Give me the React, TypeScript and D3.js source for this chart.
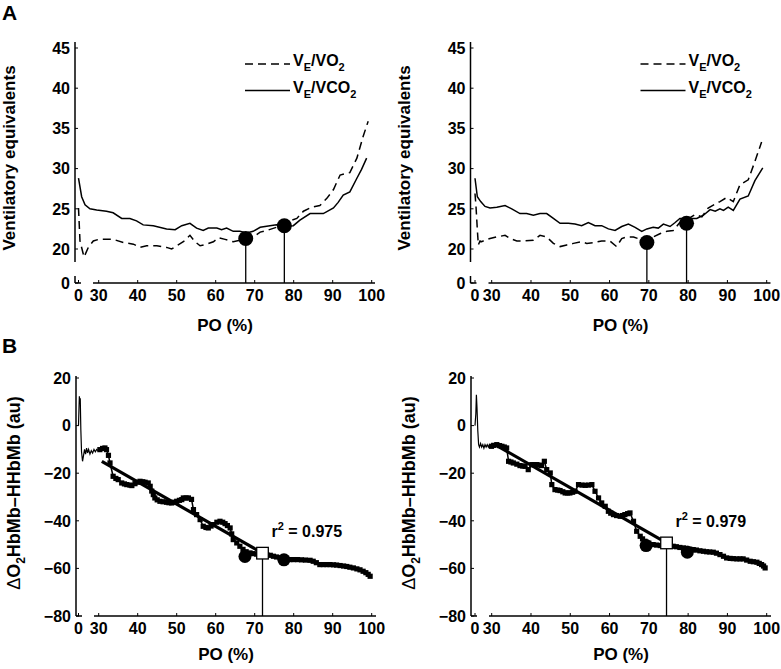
import React from "react";
import * as d3 from "d3";

type Pt = [number, number];

const xTicks = [0, 30, 40, 50, 60, 70, 80, 90, 100];
const yTicksA = [0, 20, 25, 30, 35, 40, 45];
const yTicksB = [-80, -60, -40, -20, 0, 20];

// Panel A left
const veVco2Left: Pt[] = [[0,28.8],[4.7,26.5],[9.7,25.5],[17,25.0],[27,24.85],[32,24.7],[33.7,24.5],[35.9,23.8],[38,23.8],[39.7,23.5],[41.4,23.0],[44,22.9],[47.4,22.5],[49.6,22.4],[51.3,22.9],[53.4,23.2],[55.1,22.6],[56.8,22.3],[58.1,22.6],[60.3,22.6],[61.5,22.4],[62.8,22.6],[64.5,22.2],[66.2,22.2],[67.9,22.0],[69.6,22.2],[71.4,22.7],[73.9,22.9],[75.6,23.0],[77.3,22.8],[79.9,22.9],[81.6,23.6],[84.2,24.4],[85.9,24.4],[87.6,24.4],[90.2,25.1],[91.4,25.8],[92.7,26.7],[94.4,27.1],[96.2,28.8],[97.4,29.9],[98.7,31.3]];
const veVo2Left: Pt[] = [[0,25.1],[2.2,21.0],[8.2,19.0],[14.6,20.2],[22,21.0],[30,21.2],[32,21.2],[33.7,21.2],[36.3,20.8],[38.9,20.6],[40.6,20.2],[42.3,20.4],[44.9,20.4],[47.4,20.2],[48.7,20.0],[50,20.4],[51.7,20.9],[53.4,21.7],[54.7,20.9],[56,20.4],[57.7,20.6],[59.4,20.9],[60.7,21.4],[62.4,21.2],[64.5,20.9],[66.2,21.1],[68,21.2],[69.6,21.5],[71.4,22.1],[73.1,22.3],[75.6,22.7],[77.3,23.3],[79,23.5],[80.8,23.8],[82.5,24.7],[84.6,25.2],[86.7,25.4],[88.5,26.3],[90.2,27.4],[91.9,29.2],[94.4,29.5],[96.2,31.3],[97.8,34.0],[99.1,35.9]];
const thresholdsALeft: Pt[] = [[67.7, 21.3], [77.6, 22.9]];

// Panel A right
const veVco2Right: Pt[] = [[0,28.8],[4.2,26.5],[10.2,25.9],[18,25.3],[27,25.1],[31.3,25.2],[33.4,25.4],[35.1,25.0],[37.2,24.4],[38.9,24.4],[40.6,24.2],[42.3,24.4],[44,24.4],[45.7,23.8],[47.4,23.2],[49.5,23.2],[51.2,23.1],[52.9,22.9],[54.6,23.3],[56.3,22.9],[58,22.9],[59.7,22.5],[61.4,22.3],[63.1,22.8],[64.8,23.1],[66.5,22.7],[68.2,22.2],[69.5,22.5],[71.1,22.7],[72.4,22.6],[73.7,23.1],[75.4,22.8],[76.7,23.3],[77.9,23.8],[80.1,23.8],[82.2,23.8],[83.9,24.2],[85.6,24.9],[86.9,24.7],[88.1,25.0],[89,24.8],[90.2,25.2],[91.5,24.8],[93.2,26.2],[95.3,26.6],[97,28.5],[99,30.1]];
const veVo2Right: Pt[] = [[0,26.9],[1.8,25.3],[4.2,22.4],[6,20.5],[9,21.0],[12,20.9],[18,21.1],[27,21.3],[31.3,21.5],[33.4,21.7],[34.7,21.3],[36.4,21.0],[38.1,21.0],[40.6,21.1],[42.3,21.7],[44,21.5],[45.7,20.7],[47.4,20.3],[49.1,20.5],[50.8,20.7],[52.9,20.9],[54.2,20.7],[55.9,20.8],[58,21.0],[60.1,21.0],[61.8,20.3],[63.1,21.3],[64.4,21.5],[66.1,21.5],[67.8,21.2],[69.5,21.0],[71.1,21.5],[72.8,21.9],[74.6,22.2],[76.2,22.3],[77.9,23.3],[80.5,23.9],[81.8,24.3],[83.5,24.0],[85.1,25.1],[86.9,25.6],[88.1,25.9],[89.8,26.4],[91.5,25.9],[93.2,28.0],[95.3,28.6],[97,30.9],[98.7,33.3]];
const thresholdsARight: Pt[] = [[69.5, 20.8], [79.6, 23.2]];

// Panel B left
const baselineBLeft: Pt[] = [[0,0],[0.8,8],[1.3,12.3],[2,9.5],[2.6,11.5],[3.5,-2],[4.5,-11],[6,-15],[7.5,-12.5],[9,-10],[10.5,-12],[12,-9.5],[13.5,-11.5],[15,-10],[17,-12],[19,-10.5],[21,-11.5],[23,-10],[25,-11],[27,-10],[29,-10.5],[30.3,-10.1]];
const hbBLeft: Pt[] = [[30.3,-10.1],[31.0,-9.6],[31.6,-9.4],[32.0,-10.1],[32.5,-12.5],[32.9,-15.7],[33.7,-21.3],[34.4,-22.2],[35.0,-22.7],[35.9,-24.1],[36.6,-24.5],[37.2,-24.8],[38.0,-25.0],[38.5,-25.2],[39.3,-24.4],[40.0,-23.8],[40.6,-23.4],[41.3,-23.6],[41.9,-23.8],[42.7,-24.1],[43.2,-25.5],[43.6,-27.5],[44.0,-29.0],[44.4,-30.4],[45.0,-31.2],[45.7,-31.8],[46.5,-32.0],[47.4,-32.2],[48.0,-32.4],[48.7,-32.5],[49.3,-32.2],[50.0,-31.8],[50.7,-31.4],[51.3,-31.1],[51.7,-30.4],[52.4,-30.4],[53.0,-30.4],[53.8,-31.0],[54.3,-35.3],[55.1,-37.4],[56.0,-39.5],[56.8,-42.3],[57.5,-42.8],[58.1,-43.0],[58.8,-42.2],[59.4,-41.6],[60.3,-40.6],[61.1,-40.2],[61.8,-40.6],[62.4,-41.2],[63.0,-42.0],[63.7,-43.0],[64.1,-45.5],[64.5,-47.9],[65.4,-49.3],[66.2,-50.7],[67.0,-52.0],[67.8,-53.0],[68.8,-53.5],[69.6,-53.8],[70.5,-54.0],[71.3,-54.0],[72.2,-54.1],[73.1,-54.2],[74.0,-54.5],[74.8,-54.9],[75.6,-55.2],[76.5,-55.6],[77.3,-56.0],[78.2,-56.2],[79.0,-56.3],[80.0,-56.3],[81.0,-56.3],[82.0,-56.4],[83.0,-56.5],[84.2,-56.6],[85.0,-57.0],[85.8,-57.6],[86.7,-58.4],[87.6,-58.4],[88.5,-58.4],[89.3,-58.4],[90.2,-58.5],[91.0,-58.6],[91.9,-58.8],[92.8,-59.0],[93.6,-59.2],[94.4,-59.5],[95.3,-59.8],[96.2,-60.2],[97.0,-60.6],[97.8,-61.2],[98.5,-61.8],[99.1,-62.5],[99.6,-63.3]];
const fitBLeft: Pt[] = [[30.8, -15], [72, -53.6]];
const breakBLeft: Pt = [72, -53.6];
const circlesBLeft: Pt[] = [[67.5, -55], [77.5, -56.4]];
const r2Left = "0.975";

// Panel B right
const baselineBRight: Pt[] = [[0,0],[1.5,5],[2.5,13],[3.5,8],[5,-2],[6.5,-8],[8,-9],[10,-7.5],[12,-9],[14,-8],[16,-9.5],[18,-8],[20,-9],[22,-8],[24,-9],[26,-8],[28,-8.5],[29.6,-8.7]];
const hbBRight: Pt[] = [[29.6,-8.7],[30.5,-8.3],[31.3,-8.0],[32.0,-8.4],[32.6,-8.7],[33.2,-9.0],[33.8,-9.4],[34.3,-15.0],[34.9,-15.3],[35.5,-15.7],[36.4,-16.2],[37.2,-16.8],[37.9,-17.0],[38.5,-17.1],[39.3,-18.5],[40.2,-16.4],[40.8,-16.4],[41.5,-16.4],[42.1,-16.6],[42.7,-16.8],[43.4,-15.0],[44.0,-18.5],[44.9,-19.9],[45.3,-24.8],[46.1,-26.9],[46.8,-27.1],[47.4,-27.3],[48.1,-27.8],[48.7,-28.3],[49.3,-28.3],[49.9,-28.3],[50.6,-28.0],[51.2,-27.6],[52.1,-24.8],[53.0,-25.0],[53.8,-25.1],[54.6,-25.0],[55.5,-24.8],[56.3,-27.6],[57.2,-30.4],[58.0,-32.5],[58.9,-33.9],[59.7,-36.0],[60.3,-36.8],[61.0,-37.4],[61.8,-37.8],[62.7,-38.1],[63.3,-37.8],[63.9,-37.4],[64.6,-37.0],[65.2,-36.7],[66.1,-40.2],[66.9,-44.4],[67.8,-46.5],[68.4,-47.6],[69.0,-48.6],[70.0,-49.4],[71.1,-50.0],[72.0,-50.2],[72.9,-50.4],[73.8,-50.5],[74.6,-50.6],[75.4,-50.6],[76.2,-50.7],[77.0,-50.9],[77.9,-51.2],[78.8,-51.4],[79.6,-51.6],[80.4,-51.9],[81.3,-52.1],[82.1,-52.3],[83.0,-52.6],[83.9,-52.8],[84.7,-53.0],[85.5,-53.1],[86.4,-53.2],[87.2,-53.6],[88.1,-54.2],[89.0,-54.9],[89.8,-55.6],[90.7,-55.8],[91.5,-55.9],[92.4,-56.0],[93.2,-56.0],[94.0,-56.0],[94.9,-56.5],[95.8,-57.0],[96.6,-57.2],[97.5,-57.4],[98.1,-57.9],[98.7,-58.4],[99.2,-59.0],[99.6,-59.8]];
const fitBRight: Pt[] = [[31.3, -8.4], [74.5, -49.3]];
const breakBRight: Pt = [74.5, -49.3];
const circlesBRight: Pt[] = [[69.3, -50.4], [79.8, -53.2]];
const r2Right = "0.979";

const FONT = "'Liberation Sans', Arial, Helvetica, sans-serif";

function XAxis({ ox, x, y0 }: { ox: number; x: any; y0: number }) {
  return (
    <g>
      <line x1={ox} x2={ox + 6} y1={y0} y2={y0} stroke="#000" strokeWidth={1.5} />
      <line x1={ox + 18} x2={ox + 300} y1={y0} y2={y0} stroke="#000" strokeWidth={1.5} />
      {xTicks.map((t) => (
        <g key={t}>
          <line x1={x(t)} x2={x(t)} y1={y0} y2={y0 - 3} stroke="#000" strokeWidth={1} />
          <text x={x(t)} y={y0 + 18} textAnchor="middle" fontSize={16} fontWeight="bold" fontFamily={FONT}>{t}</text>
        </g>
      ))}
      <text x={ox + 150} y={y0 + (y0 < 400 ? 48 : 44)} textAnchor="middle" fontSize={17} fontWeight="bold" fontFamily={FONT}>PO (%)</text>
    </g>
  );
}

function PanelA({ ox, xr, solid, dashed, circles }: { ox: number; xr: number[]; solid: Pt[]; dashed: Pt[]; circles: Pt[] }) {
  const x = d3.scaleLinear().domain([0, 30, 100]).range(xr);
  const y = d3.scaleLinear().domain([0, 17.5, 45]).range([283, 269.1, 48]);
  const line = d3.line<Pt>().x((d) => x(d[0])).y((d) => y(d[1]));
  const y0 = y(0);
  return (
    <g>
      <line x1={ox} x2={ox} y1={y(45) - 6} y2={262} stroke="#000" strokeWidth={1.5} />
      <line x1={ox} x2={ox} y1={276} y2={y0} stroke="#000" strokeWidth={1.5} />
      {yTicksA.map((t) => (
        <g key={t}>
          <line x1={ox} x2={ox + 3} y1={y(t)} y2={y(t)} stroke="#000" strokeWidth={1} />
          <text x={ox - 5} y={y(t)} dy="0.36em" textAnchor="end" fontSize={16} fontWeight="bold" fontFamily={FONT}>{t}</text>
        </g>
      ))}
      <XAxis ox={ox} x={x} y0={y0} />
      <path d={line(dashed) || ""} fill="none" stroke="#000" strokeWidth={1.5} strokeDasharray="8,5" />
      <path d={line(solid) || ""} fill="none" stroke="#000" strokeWidth={1.5} />
      {circles.map((c, i) => (
        <g key={i}>
          <line x1={x(c[0])} x2={x(c[0])} y1={y(c[1])} y2={y0} stroke="#000" strokeWidth={1.3} />
          <circle cx={x(c[0])} cy={y(c[1])} r={7.5} fill="#000" />
        </g>
      ))}
      <line x1={ox + 170} x2={ox + 215} y1={64} y2={64} stroke="#000" strokeWidth={1.5} strokeDasharray="8,5" />
      <line x1={ox + 170} x2={ox + 215} y1={90.5} y2={90.5} stroke="#000" strokeWidth={1.5} />
      <text x={ox + 218} y={66} fontSize={16} fontWeight="bold" fontFamily={FONT}>
        <tspan>V</tspan><tspan dy={5} fontSize={11}>E</tspan><tspan dy={-5}>/VO</tspan><tspan dy={5} fontSize={11}>2</tspan>
      </text>
      <text x={ox + 218} y={93} fontSize={16} fontWeight="bold" fontFamily={FONT}>
        <tspan>V</tspan><tspan dy={5} fontSize={11}>E</tspan><tspan dy={-5}>/VCO</tspan><tspan dy={5} fontSize={11}>2</tspan>
      </text>
    </g>
  );
}

function PanelB({ ox, xr, base, series, fit, brk, circles, r2 }: { ox: number; xr: number[]; base: Pt[]; series: Pt[]; fit: Pt[]; brk: Pt; circles: Pt[]; r2: string }) {
  const x = d3.scaleLinear().domain([0, 30, 100]).range(xr);
  const y = d3.scaleLinear().domain([-80, 20]).range([616, 378]);
  const line = d3.line<Pt>().x((d) => x(d[0])).y((d) => y(d[1]));
  const y0 = y(-80);
  return (
    <g>
      <line x1={ox} x2={ox} y1={376} y2={y0} stroke="#000" strokeWidth={1.5} />
      {yTicksB.map((t) => (
        <g key={t}>
          <line x1={ox} x2={ox + 3} y1={y(t)} y2={y(t)} stroke="#000" strokeWidth={1} />
          <text x={ox - 5} y={y(t)} dy="0.36em" textAnchor="end" fontSize={16} fontWeight="bold" fontFamily={FONT}>{t < 0 ? "\u2212" + Math.abs(t) : t}</text>
        </g>
      ))}
      <XAxis ox={ox} x={x} y0={y0} />
      <path d={line(base) || ""} fill="none" stroke="#000" strokeWidth={1.2} />
      <path d={line(series) || ""} fill="none" stroke="#000" strokeWidth={1.5} />
      {series.map((d, i) => (
        <rect key={i} x={x(d[0]) - 2.6} y={y(d[1]) - 2.6} width={5.2} height={5.2} fill="#000" />
      ))}
      <path d={line(fit) || ""} fill="none" stroke="#000" strokeWidth={3.2} />
      {circles.map((c, i) => (
        <circle key={i} cx={x(c[0])} cy={y(c[1])} r={6.5} fill="#000" />
      ))}
      <line x1={x(brk[0])} x2={x(brk[0])} y1={y(brk[1])} y2={y0} stroke="#000" strokeWidth={1.3} />
      <rect x={x(brk[0]) - 5.8} y={y(brk[1]) - 5.8} width={11.6} height={11.6} fill="#fff" stroke="#000" strokeWidth={1.3} />
      <text x={x(brk[0]) + 9} y={y(brk[1]) - 16} fontSize={16} fontWeight="bold" fontFamily={FONT}>
        <tspan>r</tspan><tspan dy={-7} fontSize={11}>2</tspan><tspan dy={7}>{" = " + r2}</tspan>
      </text>
    </g>
  );
}

export default function App() {
  return (
    <svg width={781} height={669} style={{ display: "block", position: "absolute", left: 0, top: 0, background: "#fff" }}>
      <rect x={0} y={0} width={781} height={669} fill="#fff" />
      <text x={2} y={20} fontSize={21} fontWeight="bold" fontFamily={FONT}>A</text>
      <text x={2} y={353} fontSize={21} fontWeight="bold" fontFamily={FONT}>B</text>
      <text transform="translate(14.5,158) rotate(-90)" textAnchor="middle" fontSize={17} fontWeight="bold" fontFamily={FONT}>Ventilatory equivalents</text>
      <text transform="translate(20,493) rotate(-90)" textAnchor="middle" fontSize={18} fontWeight="bold" fontFamily={FONT}>
        <tspan fontWeight="normal">Δ</tspan><tspan>O</tspan><tspan dy={5} fontSize={12}>2</tspan><tspan dy={-5}>HbMb–HHbMb (au)</tspan>
      </text>
      <PanelA ox={75} xr={[78.5, 98.7, 371.7]} solid={veVco2Left} dashed={veVo2Left} circles={thresholdsALeft} />
      <PanelA ox={470.5} xr={[475, 491.7, 766.7]} solid={veVco2Right} dashed={veVo2Right} circles={thresholdsARight} />
      <text transform="translate(409.5,158) rotate(-90)" textAnchor="middle" fontSize={17} fontWeight="bold" fontFamily={FONT}>Ventilatory equivalents</text>
      <text transform="translate(415,493) rotate(-90)" textAnchor="middle" fontSize={18} fontWeight="bold" fontFamily={FONT}>
        <tspan fontWeight="normal">Δ</tspan><tspan>O</tspan><tspan dy={5} fontSize={12}>2</tspan><tspan dy={-5}>HbMb–HHbMb (au)</tspan>
      </text>
      <PanelB ox={76} xr={[78.5, 98.7, 371.7]} base={baselineBLeft} series={hbBLeft} fit={fitBLeft} brk={breakBLeft} circles={circlesBLeft} r2={r2Left} />
      <PanelB ox={471} xr={[475, 491.7, 766.7]} base={baselineBRight} series={hbBRight} fit={fitBRight} brk={breakBRight} circles={circlesBRight} r2={r2Right} />
    </svg>
  );
}
